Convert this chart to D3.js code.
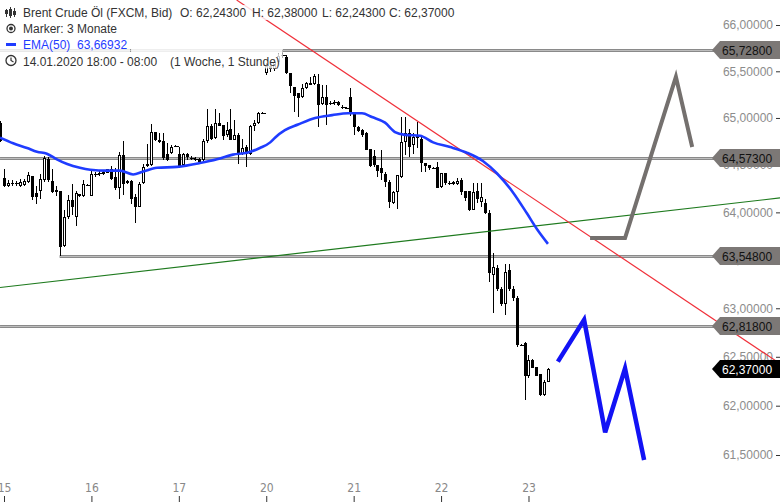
<!DOCTYPE html>
<html><head><meta charset="utf-8">
<script src="https://cdn.jsdelivr.net/npm/d3@7"></script>
<style>html,body{margin:0;padding:0;background:#fff;overflow:hidden}svg{display:block;font-family:"Liberation Sans",Arial,sans-serif}</style>
</head><body><svg id="c" width="780" height="502"></svg>
<script>
// ---- data (hourly candles, 14.01 – 23.01.2020) ----
const opens=[64.95,64.36,64.28,64.31,64.30,64.28,64.29,64.32,64.38,64.20,64.22,64.34,64.56,64.33,64.24,64.23,63.65,63.95,64.13,63.95,64.19,64.17,64.29,64.17,64.40,64.41,64.40,64.42,64.46,64.37,64.26,64.61,64.31,64.33,64.16,64.06,64.31,64.49,64.50,64.85,64.76,64.75,64.62,64.63,64.70,64.62,64.50,64.62,64.57,64.56,64.56,64.55,64.75,64.91,64.79,64.95,64.93,64.82,64.88,64.77,64.82,64.62,64.69,64.62,64.91,64.95,65.05,65.48,65.56,65.52,65.60,65.66,65.65,65.48,65.33,65.27,65.22,65.32,65.35,65.36,65.36,65.15,65.22,65.16,65.16,65.17,65.12,65.11,65.22,65.05,64.90,64.87,64.84,64.67,64.59,64.50,64.47,64.40,64.32,64.10,64.21,64.37,64.74,64.84,64.71,64.82,64.78,64.52,64.50,64.47,64.48,64.27,64.41,64.31,64.32,64.30,64.34,64.23,64.23,64.03,64.23,64.11,64.10,63.99,63.35,63.42,63.20,63.04,63.40,63.20,63.11,62.62,62.64,62.30,62.47,62.40,62.32,62.11,62.243];
const highs=[64.97,64.46,64.34,64.34,64.33,64.35,64.35,64.43,64.38,64.28,64.40,64.59,64.58,64.46,64.28,64.23,64.02,64.18,64.30,64.23,64.19,64.34,64.30,64.44,64.43,64.44,64.44,64.46,64.49,64.47,64.64,64.75,64.34,64.34,64.19,64.32,64.51,64.72,64.94,64.85,64.84,64.84,64.73,64.71,64.71,64.69,64.63,64.63,64.59,64.58,64.57,64.78,65.10,64.94,65.10,65.05,64.93,64.96,65.10,64.98,64.84,64.78,64.71,64.93,64.98,65.06,65.06,65.59,65.58,65.63,65.70,65.73,65.68,65.48,65.33,65.27,65.36,65.38,65.44,65.47,65.47,65.35,65.35,65.18,65.19,65.18,65.14,65.12,65.32,65.05,64.91,64.88,64.85,64.67,64.66,64.50,64.66,64.43,64.34,64.23,64.39,65.01,65.01,64.88,64.84,64.96,64.81,64.52,64.50,64.48,64.53,64.42,64.42,64.33,64.33,64.36,64.36,64.23,64.23,64.31,64.31,64.31,64.14,64.02,63.57,63.45,63.22,63.46,63.46,63.23,63.13,62.63,62.65,62.52,62.48,62.40,62.32,62.26,62.38];
const lows=[64.74,64.27,64.27,64.28,64.28,64.27,64.28,64.31,64.13,64.09,64.14,64.32,64.32,64.20,64.17,63.54,63.64,63.93,63.97,63.86,64.16,64.16,64.28,64.17,64.37,64.38,64.39,64.41,64.34,64.24,64.14,64.18,64.30,64.09,63.89,64.06,64.30,64.48,64.49,64.75,64.73,64.55,64.54,64.62,64.69,64.47,64.48,64.55,64.55,64.54,64.52,64.54,64.73,64.77,64.78,64.91,64.77,64.80,64.76,64.76,64.51,64.61,64.48,64.61,64.86,64.94,65.04,65.46,65.49,65.50,65.58,65.64,65.47,65.27,65.06,65.01,65.21,65.31,65.35,65.35,64.90,65.14,64.93,65.14,65.14,65.13,65.10,65.10,65.02,64.82,64.85,64.80,64.66,64.48,64.48,64.37,64.34,64.27,64.05,64.09,64.04,64.36,64.61,64.58,64.62,64.68,64.43,64.43,64.45,64.46,64.26,64.26,64.29,64.29,64.29,64.29,64.18,64.12,64.01,64.02,64.10,64.06,63.98,63.27,62.95,63.18,63.02,62.93,63.18,63.08,62.60,62.61,62.06,62.28,62.38,62.30,62.10,62.10,62.243];
const closes=[64.75,64.28,64.31,64.30,64.31,64.32,64.33,64.39,64.16,64.16,64.35,64.57,64.34,64.21,64.21,63.64,63.95,64.13,64.06,64.20,64.17,64.30,64.29,64.40,64.40,64.41,64.43,64.46,64.35,64.26,64.61,64.30,64.33,64.14,64.06,64.30,64.48,64.51,64.85,64.76,64.74,64.57,64.55,64.69,64.70,64.48,64.62,64.58,64.57,64.56,64.53,64.75,64.91,64.78,64.95,64.91,64.81,64.87,64.77,64.82,64.62,64.68,64.62,64.91,64.95,65.05,65.05,65.56,65.52,65.60,65.66,65.68,65.48,65.34,65.24,65.21,65.32,65.37,65.37,65.45,65.14,65.22,65.14,65.16,65.17,65.14,65.12,65.11,65.04,64.90,64.86,64.82,64.66,64.49,64.50,64.44,64.41,64.32,64.11,64.21,64.39,64.74,64.84,64.69,64.80,64.79,64.52,64.49,64.47,64.47,64.26,64.41,64.31,64.31,64.30,64.33,64.21,64.15,64.02,64.21,64.14,64.16,63.99,63.37,63.43,63.20,63.04,63.38,63.20,63.11,62.62,62.62,62.30,62.47,62.39,62.30,62.11,62.24,62.37];

const dayLabels=["15","16","17","20","21","22","23"];
const dayStartIdx=[1,23,45,67,89,111,133];
const priceTicks=[66,65.5,65,64.5,64,63.5,63,62.5,62,61.5];
const levelValues=[65.728,64.573,63.548,62.818];
const levelStartIdx=[0,0,15,0];
const lastPrice=62.37;

const emaIdx=[0,3.3,6.8,9.3,11.8,14.3,16.9,20.1,22.7,26.9,30.2,33.5,36,39.5,44.5,50.3,54.6,58.6,62.2,65.4,68,69.2,71.7,75,79.3,83.6,87.6,91.1,93.6,96.9,99.4,101.9,105.7,109,113.3,117.5,121.6,125.1,129.1,132.6,135.2,137.9];
const emaVal=[64.79,64.73,64.68,64.64,64.62,64.56,64.51,64.47,64.45,64.44,64.44,64.40,64.43,64.47,64.48,64.52,64.56,64.61,64.63,64.68,64.74,64.79,64.87,64.93,65.00,65.03,65.05,65.05,65.01,64.95,64.85,64.82,64.81,64.74,64.69,64.63,64.54,64.41,64.21,63.99,63.82,63.67];

const redIdx=[59.55,196.3], redVal=[66.271,62.43];
const greenIdx=[0,196.3], greenVal=[63.215,64.152];
const greyFcIdx=[148.5,157.3,170.1,174.2], greyFcVal=[63.73,63.73,65.44,64.69];
const blueFcIdx=[140.4,147.0,152.3,157.3,162.1], blueFcVal=[62.45,62.88,61.73,62.38,61.45];

// ---- scales ----
const W=780,H=502;
const x=d3.scaleLinear().domain([0,196.3]).range([0.03,780]);
const y=d3.scaleLog().domain([66,61.5]).range([25,455]);
const fmt=v=>d3.format(".5f")(v).replace(".",",");
const svg=d3.select("#c");

svg.append("defs").append("clipPath").attr("id","plot").append("rect").attr("x",0).attr("y",0).attr("width",W).attr("height",480);

// right axis
const ax=svg.append("g").attr("transform","translate(776,0)")
  .call(d3.axisRight(y).tickValues(priceTicks).tickSize(4).tickFormat(fmt));
ax.select(".domain").remove();
ax.selectAll("line").attr("stroke","#333");
ax.selectAll("text").attr("x",-3).attr("text-anchor","end").attr("fill","#8c8c8c")
  .style("font-size","12px").style("font-family","'Liberation Sans',Arial,sans-serif");

// bottom axis
const bx=svg.append("g").attr("transform","translate(0,502)")
  .call(d3.axisTop(x).tickValues(dayStartIdx).tickSize(6).tickPadding(4).tickFormat((d,i)=>dayLabels[i]));
bx.select(".domain").remove();
bx.selectAll("line").attr("stroke","#333");
bx.selectAll("text").attr("fill","#888").style("font-size","12px")
  .style("font-family","'Liberation Sans Narrow','DejaVu Sans Condensed',sans-serif");

const plot=svg.append("g").attr("clip-path","url(#plot)");

// horizontal levels
levelValues.forEach((v,k)=>{
  const yy=Math.round(y(v))+0.5;
  plot.append("line").attr("x1",x(levelStartIdx[k])).attr("x2",714).attr("y1",yy).attr("y2",yy)
    .attr("stroke","#8a8a8a").attr("stroke-width",3);
  plot.append("line").attr("x1",x(levelStartIdx[k])).attr("x2",714).attr("y1",yy).attr("y2",yy)
    .attr("stroke","#bdbdbd").attr("stroke-width",1);
});

// candles
const cg=plot.append("g").attr("shape-rendering","crispEdges");
opens.forEach((o,i)=>{
  const c=closes[i],h=highs[i],l=lows[i];
  const cx=Math.round(x(i));
  cg.append("line").attr("x1",cx+0.5).attr("x2",cx+0.5).attr("y1",y(h)).attr("y2",y(l)).attr("stroke","#000");
  const top=Math.round(y(Math.max(o,c))), bot=Math.round(y(Math.min(o,c)));
  if(c<o){
    cg.append("rect").attr("x",cx-1).attr("width",3).attr("y",top).attr("height",Math.max(1,bot-top)).attr("fill","#000");
  } else if(bot-top<2){
    cg.append("rect").attr("x",cx-1).attr("width",3).attr("y",top).attr("height",1).attr("fill","#000");
    cg.append("rect").attr("x",cx+2).attr("width",2).attr("y",top).attr("height",1).attr("fill","#000");
  } else {
    cg.append("rect").attr("x",cx-0.5).attr("width",2).attr("y",top+0.5).attr("height",bot-top-1)
      .attr("fill","#fff").attr("stroke","#000").attr("stroke-width",1);
  }
});

// trend lines
const lineGen=d3.line().x(d=>x(d[0])).y(d=>y(d[1]));
plot.append("path").datum(greenIdx.map((d,i)=>[d,greenVal[i]])).attr("d",lineGen)
  .attr("fill","none").attr("stroke","#1e7a1e").attr("stroke-width",1.2);
plot.append("path").datum(redIdx.map((d,i)=>[d,redVal[i]])).attr("d",lineGen)
  .attr("fill","none").attr("stroke","#f0303a").attr("stroke-width",1.2);

// EMA
plot.append("path").datum(emaIdx.map((d,i)=>[d,emaVal[i]]))
  .attr("d",d3.line().x(d=>x(d[0])).y(d=>y(d[1])).curve(d3.curveMonotoneX))
  .attr("fill","none").attr("stroke","#1f3cff").attr("stroke-width",2.6).attr("stroke-linejoin","round");

// forecast paths
plot.append("path").datum(greyFcIdx.map((d,i)=>[d,greyFcVal[i]])).attr("d",lineGen)
  .attr("fill","none").attr("stroke","#74706e").attr("stroke-width",4);
plot.append("path").datum(blueFcIdx.map((d,i)=>[d,blueFcVal[i]])).attr("d",lineGen)
  .attr("fill","none").attr("stroke","#1212f5").attr("stroke-width",4.5);

// price tags
function tag(v,fill,tc){
  const yy=Math.round(y(v));
  svg.append("path").attr("d",`M712,${yy} L720,${yy-9} L780,${yy-9} L780,${yy+9} L720,${yy+9} Z`).attr("fill",fill);
  svg.append("text").attr("x",722).attr("y",yy+4.5).attr("fill",tc).style("font-size","12px").text(fmt(v));
}
levelValues.forEach(v=>tag(v,"#7c7876","#111"));
tag(lastPrice,"#000","#fff");

// legend
const lg=svg.append("g").style("font-size","12px");
const rows=[
  {y:17,parts:[{x:23,t:"Brent Crude Öl (FXCM, Bid)"},{x:180,t:"O: 62,24300"},{x:252,t:"H: 62,38000"},{x:322,t:"L: 62,24300"},{x:389,t:"C: 62,37000"}],col:"#333"},
  {y:33,parts:[{x:23,t:"Marker: 3 Monate"}],col:"#333"},
  {y:49,parts:[{x:23,t:"EMA(50)"},{x:77,t:"63,66932"}],col:"#1f3cff"},
  {y:65.5,parts:[{x:23,t:"14.01.2020 18:00 - 08:00"},{x:170,t:"(1 Woche, 1 Stunde)"}],col:"#333"}
];
const widths=[];
rows.forEach((r,k)=>{
  const bg=lg.append("rect").attr("fill","#fff").attr("opacity",0.8);
  let maxX=0;
  r.parts.forEach(p=>{
    const t=lg.append("text").attr("x",p.x).attr("y",r.y).attr("fill",r.col).text(p.t);
    maxX=Math.max(maxX,p.x+t.node().getComputedTextLength());
  });
  widths.push(maxX+4);
  bg.attr("x",0).attr("y",r.y-12).attr("width",maxX+3).attr("height",15);
  if(k===3){
    // upper strip of last row's box beyond the EMA row
    lg.insert("rect",":first-child").attr("fill","#fff").attr("opacity",0.85)
      .attr("x",widths[2]).attr("y",r.y-18).attr("width",maxX+3-widths[2]).attr("height",6);
  }
});
// icons
const ic=svg.append("g");
[[6,9,17,10,14],[10,7,18,9,16],[14,8,17,11,15]].forEach(d=>{
  ic.append("line").attr("x1",d[0]+0.5).attr("x2",d[0]+0.5).attr("y1",d[1]).attr("y2",d[2]).attr("stroke","#333");
  ic.append("rect").attr("x",d[0]-1).attr("y",d[3]).attr("width",3).attr("height",d[4]-d[3]).attr("fill","#333");
});
ic.append("circle").attr("cx",11).attr("cy",28.5).attr("r",4).attr("fill","none").attr("stroke","#333").attr("stroke-width",1.3);
ic.append("circle").attr("cx",11).attr("cy",28.5).attr("r",2).attr("fill","#333");
ic.append("rect").attr("x",6).attr("y",43).attr("width",10).attr("height",3).attr("fill","#1f3cff");
ic.append("circle").attr("cx",11).attr("cy",60.5).attr("r",5).attr("fill","none").attr("stroke","#333").attr("stroke-width",1.3);
ic.append("path").attr("d","M11,57.5 L11,60.5 L13.5,62").attr("fill","none").attr("stroke","#333").attr("stroke-width",1.2);
</script></body></html>
